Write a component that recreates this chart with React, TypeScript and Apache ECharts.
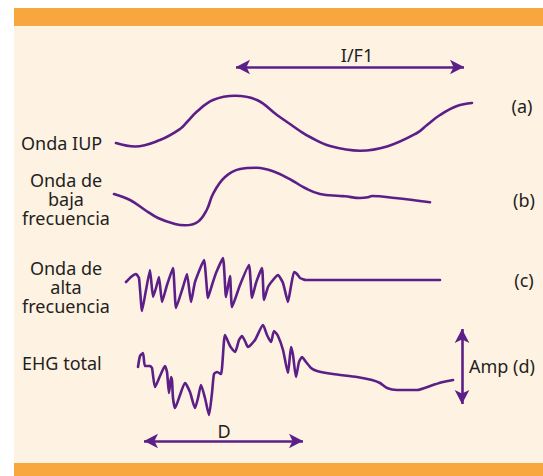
import React, { useEffect, useRef } from "react";
import * as echarts from "echarts";

// Waveforms (x, y in figure units; y grows downward)
const waveIUP: number[][] = [
  [116, 143], [135, 146.5], [160, 140], [180, 129], [187, 122], [197, 111.5],
  [213, 100], [235, 95.7], [257, 100], [277, 115], [290, 124], [300, 131],
  [310, 137], [330, 146], [360, 150.7], [387, 146.5], [417, 133], [427, 125],
  [440, 115], [457, 106], [472, 103],
];
const waveLow: number[][] = [
  [114, 194], [130, 200], [145, 210], [158, 218], [175, 224], [185, 225.3],
  [198, 221.7], [206.7, 210], [213.3, 193.3], [225, 177], [240, 169],
  [256.7, 167.7], [275, 172], [293, 181], [305, 188], [320, 194], [340, 196],
  [345, 196.3], [360, 198], [368, 197.3], [372, 196], [395, 198], [430, 202.3],
];
const waveHigh: number[][] = [
  [126, 282], [131, 277], [136, 274], [139, 278], [142, 311], [146, 290],
  [150, 270], [153, 297], [156, 288], [159, 277], [162, 302], [167, 285],
  [173, 268], [176, 308], [183, 287], [187, 274], [191, 302], [195, 282],
  [204, 260], [208, 298], [212, 285], [216, 273], [223, 258], [226, 297],
  [230, 276], [232, 307], [240, 285], [249, 265], [252, 298], [256, 283],
  [262, 268], [264, 300], [268, 287], [273, 280], [278, 275], [283, 283],
  [288, 302], [291, 286], [294, 272], [297, 274], [300, 278], [306, 280],
  [440, 280],
];
const waveEHG: number[][] = [
  [138, 367], [140, 356], [143, 353], [145, 366], [150, 366], [152, 368],
  [155, 387], [160, 376], [165, 366], [167, 372], [169, 393], [171, 377],
  [172, 380], [173, 398], [175, 408], [180, 395], [185, 383], [190, 392],
  [195, 408], [198, 398], [201, 385], [205, 398], [209, 415], [212, 393],
  [214, 374], [217, 372], [221, 374], [225, 335], [230, 346], [235, 352],
  [239, 340], [242, 336], [245, 341], [248, 347], [255, 340], [263, 325],
  [267, 335], [271, 342], [274, 331], [278, 336], [283, 350], [288, 373],
  [291, 347], [293, 355], [296, 377], [299, 362], [302, 357], [306, 362],
  [311, 368], [317, 371], [333, 374], [357, 377], [372, 380], [380, 383],
  [387, 388], [397, 390], [417, 390], [433, 385], [443, 382], [453, 380],
];

// Double arrows (end points)
const arrowIF: number[][] = [[236, 67], [464, 67]];
const arrowD: number[][] = [[144, 441], [303, 441]];
const arrowAmp: number[][] = [[462, 329], [462, 404]];

// Labels
const labelIF = "I/F1";
const labelD = "D";
const labelAmp = "Amp (d)";
const rowLetters = ["(a)", "(b)", "(c)"];
const labelIUP = "Onda IUP";
const labelLow = ["Onda de", "baja", "frecuencia"];
const labelHigh = ["Onda de", "alta", "frecuencia"];
const labelEHG = "EHG total";

const PURPLE = "#5c1f87";
const TEXT = "#231f20";
const FONT = "Noto Sans";

export default function App() {
  const ref = useRef<HTMLDivElement>(null);

  useEffect(() => {
    document.body.style.margin = "0";
    if (!ref.current) return;
    const chart = echarts.init(ref.current, null, { renderer: "svg" });

    const wave = (data: number[][], smooth: number) => ({
      type: "line",
      data,
      smooth,
      showSymbol: false,
      symbol: "none",
      lineStyle: { color: PURPLE, width: 2.6, cap: "round", join: "round" },
      silent: true,
      z: 3,
    });
    const arrow = (pts: number[][]) => ({
      type: "line",
      data: [],
      silent: true,
      markLine: {
        silent: true,
        symbol: ["arrow", "arrow"],
        symbolSize: [11, 14],
        label: { show: false },
        lineStyle: { color: PURPLE, width: 2.6, type: "solid" },
        emphasis: { disabled: true },
        data: [[{ coord: pts[0] }, { coord: pts[1] }]],
      },
      z: 3,
    });

    const txt = (
      text: string,
      x: number,
      y: number,
      align: string = "left"
    ) => ({
      type: "text",
      x,
      y,
      z: 10,
      style: {
        text,
        fill: TEXT,
        font: `18px "${FONT}"`,
        lineHeight: 19,
        textAlign: align,
        textVerticalAlign: "middle",
      },
    });

    const graphics: any[] = [
      { type: "rect", z: 0, shape: { x: 14, y: 8, width: 529, height: 468 }, style: { fill: "#fef2e3" } },
      { type: "rect", z: 1, shape: { x: 14, y: 8, width: 529, height: 18 }, style: { fill: "#f8a73f" } },
      { type: "rect", z: 1, shape: { x: 14, y: 463, width: 529, height: 13 }, style: { fill: "#f8a73f" } },
      txt(labelIF, 357, 55, "center"),
      txt(rowLetters[0], 522, 106, "center"),
      txt(rowLetters[1], 524, 200, "center"),
      txt(rowLetters[2], 524, 280, "center"),
      txt(labelIUP, 21, 143),
      txt(labelLow.join("\n"), 66, 198.5, "center"),
      txt(labelHigh.join("\n"), 66, 287, "center"),
      txt(labelEHG, 22, 363),
      txt(labelAmp, 469, 366),
      txt(labelD, 224, 431, "center"),
    ];

    chart.setOption({
      animation: false,
      backgroundColor: "#ffffff",
      grid: { left: 0, right: 0, top: 0, bottom: 0 },
      xAxis: { type: "value", min: 0, max: 543, show: false },
      yAxis: { type: "value", min: 0, max: 476, inverse: true, show: false },
      tooltip: { show: false },
      graphic: graphics,
      series: [
        wave(waveIUP, 0.4),
        wave(waveLow, 0.4),
        wave(waveHigh, 0.15),
        wave(waveEHG, 0.2),
        arrow(arrowIF),
        arrow(arrowD),
        arrow(arrowAmp),
      ],
    });
    return () => chart.dispose();
  }, []);

  return <div ref={ref} style={{ width: 543, height: 476 }} />;
}
